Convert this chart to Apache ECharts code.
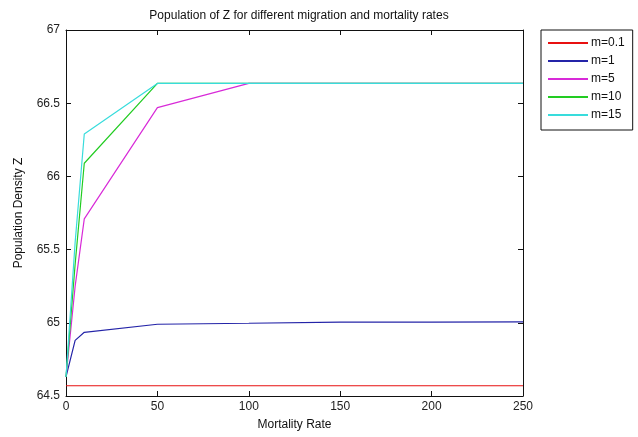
<!DOCTYPE html>
<html>
<head>
<meta charset="utf-8">
<script src="https://cdn.jsdelivr.net/npm/echarts@6/dist/echarts.min.js"></script>
<style>
html,body{margin:0;padding:0;background:#fff;}
#chart{width:638px;height:437px;}
</style>
</head>
<body>
<div id="chart"></div>
<script>
const mortality = [0, 5, 10, 50, 100, 150, 200, 250];
const seriesNames = ['m=0.1', 'm=1', 'm=5', 'm=10', 'm=15'];
const m01 = [64.57, 64.57, 64.57, 64.57, 64.57, 64.57, 64.57, 64.57];
const m1 = [64.63, 64.88, 64.935, 64.99, 64.997, 65.005, 65.005, 65.006];
const m5 = [64.63, 65.25, 65.71, 66.47, 66.635, 66.635, 66.635, 66.635];
const m10 = [64.63, 65.40, 66.09, 66.635, 66.635, 66.635, 66.635, 66.635];
const m15 = [64.63, 65.55, 66.29, 66.635, 66.635, 66.635, 66.635, 66.635];
const xTicks = [0, 50, 100, 150, 200, 250];
const yTicks = [64.5, 65, 65.5, 66, 66.5, 67];

const colors = ['#e81010', '#2424a8', '#d82ad8', '#22cc22', '#38dcdc'];
const allValues = [m01, m1, m5, m10, m15];
const FONT = 'Liberation Sans, Arial, sans-serif';

const chart = echarts.init(document.getElementById('chart'), null, {renderer: 'canvas'});
const axisTextStyle = {color: '#222', fontSize: 12, fontFamily: FONT};

const baseX = {
  type: 'value', min: xTicks[0], max: xTicks[xTicks.length - 1], interval: xTicks[1] - xTicks[0],
  splitLine: {show: false},
  axisLine: {show: true, onZero: false, lineStyle: {color: '#111', width: 1}},
  axisTick: {show: true, inside: true, length: 5, lineStyle: {color: '#111'}}
};
const baseY = {
  type: 'value', min: yTicks[0], max: yTicks[yTicks.length - 1], interval: yTicks[1] - yTicks[0],
  splitLine: {show: false},
  axisLine: {show: true, onZero: false, lineStyle: {color: '#111', width: 1}},
  axisTick: {show: true, inside: true, length: 5, lineStyle: {color: '#111'}}
};

chart.setOption({
  animation: false,
  backgroundColor: '#fff',
  title: {
    text: 'Population of Z for different migration and mortality rates',
    left: 294, top: 5, textAlign: 'center',
    textStyle: {fontSize: 12, fontWeight: 'normal', color: '#111', fontFamily: FONT}
  },
  grid: {left: 66, right: 115, top: 30, bottom: 41, containLabel: false},
  legend: {
    orient: 'vertical', left: 541, top: 30,
    width: 96,
    padding: [7, 8, 9, 7],
    itemGap: 6,
    itemWidth: 40, itemHeight: 14,
    borderColor: '#111', borderWidth: 1, backgroundColor: '#fff',
    icon: 'path://M0,6 L40,6 L40,8 L0,8 Z',
    textStyle: {fontSize: 12, color: '#111', fontFamily: FONT, padding: [0, 0, 0, -2]},
    data: seriesNames
  },
  xAxis: [
    Object.assign({}, baseX, {
      position: 'bottom',
      name: 'Mortality Rate', nameLocation: 'middle', nameGap: 23,
      nameTextStyle: {fontSize: 12, color: '#111', fontFamily: FONT},
      axisLabel: Object.assign({margin: 5}, axisTextStyle)
    }),
    Object.assign({}, baseX, {position: 'top', axisLabel: {show: false}})
  ],
  yAxis: [
    Object.assign({}, baseY, {
      position: 'left',
      name: 'Population Density Z', nameLocation: 'middle', nameGap: 41,
      nameTextStyle: {fontSize: 12, color: '#111', fontFamily: FONT},
      axisLabel: Object.assign({margin: 6}, axisTextStyle)
    }),
    Object.assign({}, baseY, {position: 'right', axisLabel: {show: false}})
  ],
  series: seriesNames.map((name, i) => ({
    name: name,
    type: 'line',
    xAxisIndex: 0, yAxisIndex: 0,
    symbol: 'none',
    color: colors[i],
    itemStyle: {color: colors[i]},
    lineStyle: {color: colors[i], width: 1.2},
    data: mortality.map((x, j) => [x, allValues[i][j]])
  }))
});
</script>
</body>
</html>
